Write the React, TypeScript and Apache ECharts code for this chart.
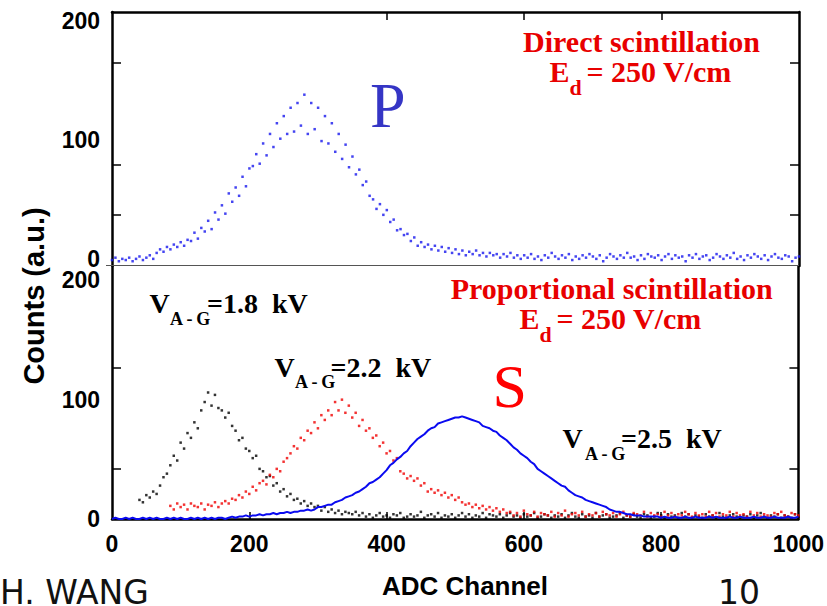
import React, { useEffect, useRef } from "react";
import * as echarts from "echarts";

// ---------- data (ADC channel step of 5) ----------
const CHANNEL_STEP = 5;

// Top panel: direct scintillation (P), channels 0..1000
const P_START = 0;
const P_COUNTS = [
  -1, 1, -2, 0, -1, 1, -2, 0, 2, -1,
  1, 3, 0, 5, 8, 6, 10, 8, 12, 10,
  14, 11, 16, 15, 22, 17, 26, 23, 32, 25,
  39, 33, 45, 38, 55, 48, 60, 53, 69, 61,
  76, 78, 88, 80, 97, 87, 105, 94, 114, 101,
  120, 105, 127, 107, 131, 112, 138, 105, 131, 109,
  127, 99, 120, 97, 114, 90, 105, 84, 96, 77,
  86, 71, 75, 62, 65, 53, 50, 42, 46, 37,
  41, 31, 33, 24, 25, 20, 21, 15, 18, 11,
  14, 10, 12, 8, 11, 7, 10, 6, 9, 5,
  8, 4, 7, 3, 6, 4, 7, 3, 5, 2,
  5, 3, 4, 1, 4, 2, 5, 1, 3, 0,
  3, 1, 4, 0, 2, -1, 3, 1, 5, 2,
  0, 3, 1, 4, -1, 2, 0, 3, 1, 4,
  2, 0, 3, -2, 1, 4, 2, 0, 3, 1,
  5, 1, 2, -1, 3, 0, 4, 2, 1, 3,
  -1, 2, 4, 0, 3, 1, 2, -2, 3, 1,
  4, 0, 2, 3, -1, 1, 4, 2, 0, 3,
  1, 5, 0, 2, -1, 3, 1, 4, 2, 0,
  3, -1, 2, 4, 1, 0, 3, 2, -2, 1,
  2,
];

// Bottom panel: proportional scintillation, V_A-G = 1.8 kV (black)
const BLACK_START = 40;
const BLACK_COUNTS = [
  16, 14, 20, 18, 23, 21, 28, 35, 38, 45,
  53, 49, 64, 59, 72, 68, 81, 76, 91, 98,
  106, 95, 104, 93, 91, 85, 89, 78, 74, 66,
  68, 59, 57, 51, 53, 42, 40, 35, 36, 28,
  30, 23, 25, 19, 21, 16, 17, 13, 15, 11,
  13, 10, 11, 7, 10, 6, 8, 5, 7, 4,
  6, 5, 4, 6, 3,
  5, 2, 4, 1, 3, 5, 2, 3, 1, 4,
  3, 5, 1, 2, 4, 2, 3, 6, 1, 3,
  4, 2, 5, 1, 3, 2, 4, 1, 3, 5,
  2, 4, 1, 3, 2, 5, 1, 4, 3, 2,
  4, 1, 3, 5, 2, 3, 1, 4, 2, 3,
  5, 1, 2, 4, 3, 1, 3, 2, 4, 1,
  3, 5, 2, 1, 4, 2, 3, 1, 5, 2,
  3, 4, 1, 2, 3, 5, 1, 3, 2, 4,
  2, 1, 4, 3, 1, 2, 5, 3, 1, 4,
  2, 3, 1, 5, 2, 4, 1, 3, 2, 1,
  4, 2, 3, 1, 5, 2, 1, 3, 4, 2,
  1, 3, 2, 4, 1, 3, 5, 2, 1, 3,
  2, 4, 1, 3, 2, 1, 4, 2,
];

// V_A-G = 2.2 kV (red)
const RED_START = 85;
const RED_COUNTS = [
  11, 8, 13, 10, 12, 8, 13, 11, 10, 13,
  8, 12, 11, 14, 10, 13, 15, 13, 17, 16,
  20, 18, 23, 21, 27, 24, 30, 32, 29, 37,
  35, 42, 40, 48, 51, 55, 61, 59, 68, 66,
  74, 72, 81, 76, 87, 83, 91, 87, 98, 91,
  100, 89, 95, 85, 89, 78, 83, 74, 76, 68,
  70, 61, 64, 55, 57, 49, 51, 40, 38, 34,
  36, 32, 34, 28, 30, 23, 25, 22, 24, 20,
  22, 18, 20, 16, 18, 14, 12, 13, 10, 12,
  9, 11, 8, 10, 7, 9, 6, 8, 5,
  6, 3, 5, 2, 7, 4, 3, 6, 2, 5,
  4, 3, 6, 2, 5, 3, 7, 2, 4, 5,
  3, 6, 2, 4, 3, 5, 2, 6, 4, 3,
  5, 2, 4, 6, 3, 2, 5, 4, 3, 6,
  2, 5, 3, 4, 2, 6, 3, 5, 2, 4,
  3, 6, 4, 2, 5, 3, 4, 2, 6, 3,
  5, 2, 4, 3, 6, 2, 5, 3, 4, 2,
  6, 3, 5, 2, 4, 3, 2, 5, 4, 6,
  3, 2, 5, 4, 3,
];

// V_A-G = 2.5 kV (blue)
const BLUE_START = 0;
const BLUE_COUNTS = [
  0, 1, 0, 0, 1, 0, 1, 0, 0, 1,
  0, 1, 0, 1, 0, 0, 1, 0, 1, 0,
  1, 0, 0, 1, 0, 1, 0, 1, 0, 1,
  0, 1, 1, 0, 1,
  2, 1, 2, 2, 3, 2, 3, 3, 4, 3,
  4, 4, 5, 4, 5, 5, 6, 5, 6, 6,
  7, 7, 8, 7, 8, 10, 10, 11, 12, 12,
  14, 15, 16, 18, 19, 20, 22, 23, 25, 27,
  30, 31, 33, 35, 38, 41, 45, 47, 50, 52,
  55, 57, 61, 64, 67, 69, 71, 74, 76, 77,
  80, 81, 82, 83, 84, 85, 85, 86, 85, 84,
  83, 82, 81, 78, 77, 76, 74, 73, 70, 68,
  66, 63, 60, 58, 55, 53, 51, 48, 46, 42,
  40, 38, 36, 34, 32, 30, 28, 27, 24, 22,
  20, 19, 18, 16, 15, 14, 13, 12, 11, 10,
  8, 7, 6, 6, 5, 4, 4, 3, 3, 3,
  2, 2, 2, 2, 2,
  1, 2, 1, 1, 2, 1, 1, 2, 1, 1,
  2, 1, 1, 1, 2, 1, 2, 1, 1, 1,
  2, 1, 1, 2, 1, 1, 1, 2, 1, 1,
  2, 1, 1, 2, 1, 1, 1, 2, 1, 1,
  2,
];

// tick labels and tick positions
const X_TICK_LABELS = [0, 200, 400, 600, 800, 1000];
const Y_TICK_LABELS = [0, 100, 200];
const TOP_X_TICKS = [400, 600, 800];
const BOTTOM_X_TICKS = [200, 400, 600, 800];
const TOP_Y_TICKS = [37, 79.5, 165];
const BOTTOM_Y_TICKS = [42, 126.5];

function pairs(start: number, values: number[]) {
  return values.map((v, i) => [start + i * CHANNEL_STEP, v]);
}

const SANS = "'Liberation Sans', Arial, sans-serif";
const SERIF = "'Liberation Serif', 'Times New Roman', serif";
const RED = "#e80000";

function txt(
  text: string,
  x: number,
  y: number,
  font: string,
  fill: string,
  align: string = "left",
  extra: any = {}
) {
  return {
    type: "text",
    x,
    y,
    silent: true,
    z: 100,
    ...extra,
    style: {
      text,
      font,
      fill,
      align,
      verticalAlign: "middle",
      textAlign: align,
      textVerticalAlign: "middle",
    },
  };
}

export default function App() {
  const ref = useRef<HTMLDivElement>(null);

  useEffect(() => {
    document.body.style.margin = "0";
    if (!ref.current) return;
    const chart = echarts.init(ref.current, undefined, { renderer: "svg" });

    const axisLineStyle = { show: true, onZero: false, lineStyle: { color: "#000", width: 2.5 } };
    const labelStyle = {
      fontFamily: SANS,
      fontWeight: "bold",
      fontSize: 23,
      lineHeight: 17,
      color: "#000",
      formatter: (v: number) => String(v),
    };

    const boldSerif = (px: number) => `bold ${px}px ${SERIF}`;

    const vLabel = (
      val: string,
      vx: number,
      baseY: number,
      subX: number,
      restX: number
    ) => [
      txt("V", vx, baseY - 0.3375 * 28, boldSerif(28), "#000"),
      txt("A\u2009-\u2009G", subX, baseY + 11.7 - 0.3375 * 18, boldSerif(18), "#000"),
      txt("=" + val + "\u00a0\u00a0kV", restX, baseY - 0.3375 * 28, boldSerif(28), "#000"),
    ];

    const option: any = {
      animation: false,
      grid: [
        { left: 112, right: 28, top: 12, height: 254, containLabel: false },
        { left: 112, right: 28, top: 266, height: 253, containLabel: false },
      ],
      xAxis: [
        {
          gridIndex: 0,
          type: "value",
          min: 0,
          max: 1000,
          position: "top",
          axisLine: axisLineStyle,
          axisTick: {
            show: true,
            inside: true,
            length: 8,
            customValues: TOP_X_TICKS,
            lineStyle: { color: "#000", width: 1.5 },
          },
          axisLabel: { show: false },
          splitLine: { show: false },
        },
        {
          gridIndex: 1,
          type: "value",
          min: 0,
          max: 1000,
          interval: 200,
          position: "bottom",
          axisLine: axisLineStyle,
          axisTick: {
            show: true,
            inside: true,
            length: 7,
            customValues: BOTTOM_X_TICKS,
            lineStyle: { color: "#000", width: 1.5 },
          },
          axisLabel: { ...labelStyle, margin: 16, customValues: X_TICK_LABELS },
          splitLine: { show: false },
        },
      ],
      yAxis: [
        {
          gridIndex: 0,
          type: "value",
          min: -6,
          max: 207.5,
          position: "left",
          axisLine: axisLineStyle,
          axisTick: {
            show: true,
            inside: true,
            length: 9,
            customValues: TOP_Y_TICKS,
            lineStyle: { color: "#000", width: 1.5 },
          },
          axisLabel: { ...labelStyle, margin: 12, customValues: Y_TICK_LABELS },
          splitLine: { show: false },
        },
        {
          gridIndex: 0,
          type: "value",
          min: -6,
          max: 207.5,
          position: "right",
          axisLine: axisLineStyle,
          axisTick: {
            show: true,
            inside: true,
            length: 9,
            customValues: TOP_Y_TICKS,
            lineStyle: { color: "#000", width: 1.5 },
          },
          axisLabel: { show: false },
          splitLine: { show: false },
        },
        {
          gridIndex: 1,
          type: "value",
          min: 0,
          max: 212,
          position: "left",
          axisLine: axisLineStyle,
          axisTick: {
            show: true,
            inside: true,
            length: 9,
            customValues: BOTTOM_Y_TICKS,
            lineStyle: { color: "#000", width: 1.5 },
          },
          axisLabel: { ...labelStyle, margin: 12, customValues: Y_TICK_LABELS },
          splitLine: { show: false },
        },
        {
          gridIndex: 1,
          type: "value",
          min: 0,
          max: 212,
          position: "right",
          axisLine: axisLineStyle,
          axisTick: {
            show: true,
            inside: true,
            length: 9,
            customValues: BOTTOM_Y_TICKS,
            lineStyle: { color: "#000", width: 1.5 },
          },
          axisLabel: { show: false },
          splitLine: { show: false },
        },
      ],
      series: [
        {
          type: "scatter",
          name: "P",
          xAxisIndex: 0,
          yAxisIndex: 0,
          data: pairs(P_START, P_COUNTS),
          symbol: "rect",
          symbolSize: 2.5,
          itemStyle: { color: "#1616ee" },
          silent: true,
        },
        {
          type: "scatter",
          name: "1.8 kV",
          xAxisIndex: 1,
          yAxisIndex: 2,
          data: pairs(BLACK_START, BLACK_COUNTS),
          symbol: "rect",
          symbolSize: 2.5,
          itemStyle: { color: "#000" },
          silent: true,
        },
        {
          type: "scatter",
          name: "2.2 kV",
          xAxisIndex: 1,
          yAxisIndex: 2,
          data: pairs(RED_START, RED_COUNTS),
          symbol: "rect",
          symbolSize: 2.5,
          itemStyle: { color: "#f00000" },
          silent: true,
        },
        {
          type: "line",
          name: "2.5 kV",
          xAxisIndex: 1,
          yAxisIndex: 2,
          data: pairs(BLUE_START, BLUE_COUNTS),
          symbol: "none",
          lineStyle: { color: "#0a0af0", width: 2 },
          silent: true,
        },
      ],
      graphic: [
        {
          type: "line",
          shape: { x1: 106, y1: 265.5, x2: 799, y2: 265.5 },
          style: { stroke: "#555", lineWidth: 1 },
          silent: true,
          z: 50,
        },
        // top panel texts
        txt("Direct scintillation", 641.5, 51.7 - 0.3375 * 30, boldSerif(30), RED, "center"),
        txt("E", 549.5, 81.7 - 0.3375 * 30, boldSerif(30), RED),
        txt("d", 569.5, 95 - 0.3375 * 22, boldSerif(22), RED),
        txt("= 250 V/cm", 586.5, 81.7 - 0.3375 * 30, boldSerif(30), RED),
        txt("P", 370, 126.7 - 0.3375 * 64, `64px ${SERIF}`, "#3535c5"),
        // bottom panel texts
        txt("Proportional scintillation", 611.7, 298.3 - 0.3375 * 30, boldSerif(30), RED, "center"),
        txt("E", 519.5, 328.3 - 0.3375 * 30, boldSerif(30), RED),
        txt("d", 539.5, 341.7 - 0.3375 * 22, boldSerif(22), RED),
        txt("= 250 V/cm", 556.5, 328.3 - 0.3375 * 30, boldSerif(30), RED),
        txt("S", 492.5, 407 - 0.3375 * 62, `62px ${SERIF}`, "#ff0000"),
        ...vLabel("1.8", 149.5, 313.3, 170, 207),
        ...vLabel("2.2", 274.5, 376.7, 295, 330.5),
        ...vLabel("2.5", 562.5, 448.3, 585, 621),
        // axis titles
        txt("Counts (a.u.)", 34, 296, `bold 29px ${SANS}`, "#000", "center", {
          rotation: Math.PI / 2,
        }),
        txt("ADC Channel", 465, 595 - 0.3465 * 26, `bold 26px ${SANS}`, "#000", "center"),
        // slide footer
        txt("H. WANG", 0, 604 - 0.346 * 33, `33px 'DejaVu Sans', sans-serif`, "#111"),
        txt("10", 718, 604 - 0.346 * 33, `33px 'DejaVu Sans', sans-serif`, "#111"),
      ],
    };

    chart.setOption(option);
    return () => chart.dispose();
  }, []);

  return <div ref={ref} style={{ width: 827, height: 606 }} />;
}
